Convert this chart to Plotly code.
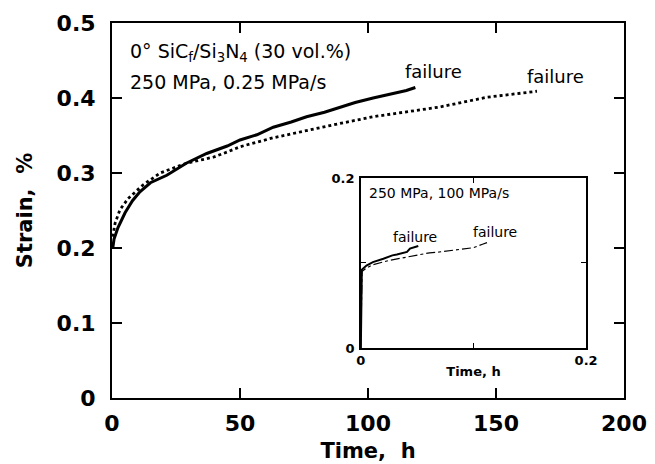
import plotly.graph_objects as go

# Main plot data (time in h, strain in %)
t_solid = [0.3, 0.8, 2.3, 5.1, 8, 10.9, 15, 21.4, 29, 37, 45, 50, 56.6, 63, 70, 76, 83, 89, 95, 102, 110, 115, 118.5]
s_solid = [0.200, 0.212, 0.227, 0.247, 0.263, 0.275, 0.287, 0.297, 0.313, 0.326, 0.336, 0.344, 0.351, 0.361, 0.368, 0.375, 0.381, 0.388, 0.394, 0.400, 0.406, 0.410, 0.414]

t_dot = [0.3, 1.2, 3.1, 6.3, 12.1, 18.8, 29, 39.5, 45, 50, 63, 76, 89, 102, 115, 128, 146.5, 166]
s_dot = [0.215, 0.233, 0.251, 0.266, 0.284, 0.300, 0.313, 0.321, 0.328, 0.335, 0.347, 0.357, 0.366, 0.375, 0.381, 0.388, 0.401, 0.409]

# Inset data (250 MPa, 100 MPa/s)
ti_solid = [0.0, 0.0005, 0.0009, 0.005, 0.0107, 0.02, 0.028, 0.032, 0.041, 0.0436, 0.051]
si_solid = [0.0, 0.060, 0.092, 0.097, 0.101, 0.105, 0.109, 0.110, 0.113, 0.117, 0.120]

ti_dash = [0.0, 0.0005, 0.001, 0.005, 0.0107, 0.025, 0.041, 0.061, 0.07, 0.1, 0.108, 0.112]
si_dash = [0.0, 0.060, 0.090, 0.094, 0.098, 0.103, 0.107, 0.112, 0.113, 0.118, 0.122, 0.124]

x_ticks = [0, 50, 100, 150, 200]
y_ticks = [0, 0.1, 0.2, 0.3, 0.4, 0.5]
y_ticklabels = ["0", "0.1", "0.2", "0.3", "0.4", "0.5"]
xi_ticks = [0, 0.2]
yi_ticks = [0, 0.2]
xi_minor = [0.1]
yi_minor = [0.1]

BOLD = "DejaVu Sans, sans-serif"
REG = "DejaVu Sans, sans-serif"

fig = go.Figure()
fig.add_trace(go.Scatter(x=t_solid, y=s_solid, mode="lines", line=dict(color="black", width=3), showlegend=False))
fig.add_trace(go.Scatter(x=t_dot, y=s_dot, mode="lines", line=dict(color="black", width=2.8, dash="3px,3px"), showlegend=False))
fig.add_trace(go.Scatter(x=ti_solid, y=si_solid, xaxis="x2", yaxis="y2", mode="lines", line=dict(color="black", width=2), showlegend=False))
fig.add_trace(go.Scatter(x=ti_dash, y=si_dash, xaxis="x2", yaxis="y2", mode="lines", line=dict(color="black", width=1.2, dash="dashdot"), showlegend=False))

axis_common = dict(showline=True, linecolor="black", mirror="ticks", showgrid=False, zeroline=False,
                   ticks="inside", tickcolor="black", automargin=False)

fig.update_layout(
    width=647, height=456,
    margin=dict(l=104, r=31, t=15, b=66),
    paper_bgcolor="white", plot_bgcolor="white",
    xaxis=dict(**axis_common, range=[0, 200], tickvals=x_ticks, ticktext=[str(v) for v in x_ticks],
               linewidth=2, ticklen=10, tickwidth=1.5, ticklabelstandoff=5,
               tickfont=dict(family=BOLD, size=22, color="black", weight="bold"),
               title=dict(text="Time,  h", font=dict(family=BOLD, size=21, color="black", weight="bold"), standoff=8)),
    yaxis=dict(**axis_common, range=[0, 0.5], tickvals=y_ticks, ticktext=y_ticklabels,
               linewidth=2, ticklen=10, tickwidth=1.5, ticklabelstandoff=10,
               tickfont=dict(family=BOLD, size=22, color="black", weight="bold"),
               title=dict(text="Strain,  %", font=dict(family=BOLD, size=21, color="black", weight="bold"), standoff=18)),
    xaxis2=dict(**axis_common, domain=[0.486, 0.926], anchor="y2", range=[0, 0.2],
                tickvals=xi_ticks, ticktext=["0", "0.2"], linewidth=1.5, ticklen=5, tickwidth=1,
                minor=dict(tickvals=xi_minor, ticks="inside", ticklen=5, tickwidth=1, tickcolor="black", showgrid=False),
                ticklabelstandoff=0,
                tickfont=dict(family=BOLD, size=13, color="black", weight="bold"),
                title=dict(text="Time, h", font=dict(family=BOLD, size=13, color="black", weight="bold"), standoff=0)),
    yaxis2=dict(**axis_common, domain=[0.1333, 0.5867], anchor="x2", range=[0, 0.2],
                tickvals=yi_ticks, ticktext=["0", "0.2"], linewidth=1.5, ticklen=5, tickwidth=1,
                minor=dict(tickvals=yi_minor, ticks="inside", ticklen=5, tickwidth=1, tickcolor="black", showgrid=False),
                ticklabelstandoff=2,
                tickfont=dict(family=BOLD, size=13, color="black", weight="bold")),
)

# inset y-axis title placed close to the axis, as in the reference
fig.add_annotation(x=-0.0267, y=0.1, xref="x2", yref="y2", textangle=-90, showarrow=False,
                   text="Strain, %", font=dict(family=BOLD, size=12, color="black", weight="bold"))

ann_font = dict(family=REG, size=19, color="black")
fig.add_annotation(x=6.25, y=0.461, xref="x", yref="y", xanchor="left", yanchor="middle", showarrow=False,
                   text="0° SiC<sub>f</sub>/Si<sub>3</sub>N<sub>4</sub> (30 vol.%)", font=ann_font)
fig.add_annotation(x=6.25, y=0.421, xref="x", yref="y", xanchor="left", yanchor="middle", showarrow=False,
                   text="250 MPa, 0.25 MPa/s", font=ann_font)
fig.add_annotation(x=125.4, y=0.435, xref="x", yref="y", showarrow=False, text="failure",
                   font=dict(family=REG, size=18, color="black"))
fig.add_annotation(x=173.4, y=0.429, xref="x", yref="y", showarrow=False, text="failure",
                   font=dict(family=REG, size=18, color="black"))

fig.add_annotation(x=0.0053, y=0.182, xref="x2", yref="y2", xanchor="left", yanchor="middle", showarrow=False,
                   text="250 MPa, 100 MPa/s", font=dict(family=REG, size=14, color="black"))
fig.add_annotation(x=0.048, y=0.1306, xref="x2", yref="y2", showarrow=False, text="failure",
                   font=dict(family=REG, size=14, color="black"))
fig.add_annotation(x=0.119, y=0.1365, xref="x2", yref="y2", showarrow=False, text="failure",
                   font=dict(family=REG, size=14, color="black"))

fig.write_html("out.html")
